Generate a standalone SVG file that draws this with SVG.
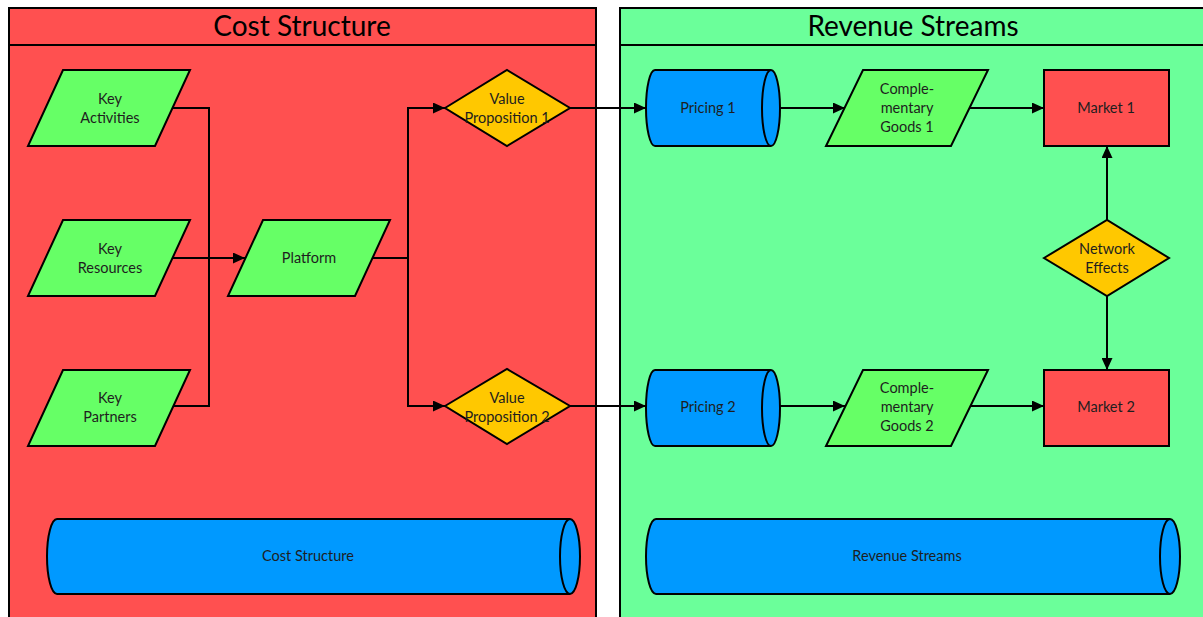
<svg xmlns="http://www.w3.org/2000/svg" width="1203" height="617" viewBox="0 0 1203 617">
<style>
.pool{stroke:#000;stroke-width:2}
.shape{stroke:#000;stroke-width:2}
.para{fill:#66FF66}
.dia{fill:#FFC800}
.cyl{fill:#0099FF}
.mkt{fill:#FF5050}
.t{font-family:Lato,"Open Sans",sans-serif;font-size:14.5px;fill:#1e1e1e;text-anchor:middle}
.title{font-family:Lato,"Open Sans",sans-serif;font-size:28px;fill:#000;text-anchor:middle}
.c{fill:none;stroke:#000;stroke-width:2}
</style>
<defs>
<marker id="ah" markerUnits="userSpaceOnUse" markerWidth="13" markerHeight="11" refX="12" refY="5.5" orient="auto">
<path d="M0,0 L12,5.5 L0,11 Z" fill="#000"/>
</marker>
</defs>
<rect width="1203" height="617" fill="#fff"/>
<g id="pool-cost">
<rect class="pool" x="9" y="8" width="587" height="620" fill="#FF5050"/>
<line class="pool" x1="9" y1="45" x2="596" y2="45"/>
<text class="title" x="302" y="36">Cost Structure</text>
</g>
<g id="pool-revenue">
<rect class="pool" x="620" y="8" width="600" height="620" fill="#6BFF9A"/>
<line class="pool" x1="620" y1="45" x2="1220" y2="45"/>
<text class="title" x="913" y="36">Revenue Streams</text>
</g>
<g id="connectors">
<path class="c" d="M172,108 H209 V258"/>
<path class="c" d="M172,406 H209 V258"/>
<path class="c" d="M172,258 H245" marker-end="url(#ah)"/>
<path class="c" d="M372,258 H408 V108 H445" marker-end="url(#ah)"/>
<path class="c" d="M408,258 V406 H445" marker-end="url(#ah)"/>
<path class="c" d="M570,108 H646" marker-end="url(#ah)"/>
<path class="c" d="M570,406 H646" marker-end="url(#ah)"/>
<path class="c" d="M780,108 H845" marker-end="url(#ah)"/>
<path class="c" d="M780,406 H845" marker-end="url(#ah)"/>
<path class="c" d="M969,108 H1044" marker-end="url(#ah)"/>
<path class="c" d="M969,406 H1044" marker-end="url(#ah)"/>
<path class="c" d="M1107,220 V146" marker-end="url(#ah)"/>
<path class="c" d="M1107,296 V370" marker-end="url(#ah)"/>
</g>
<g id="key-activities">
<path class="shape para" d="M63,70 L190,70 L155,146 L28,146 Z"/>
<text class="t" x="110" y="103.5">Key</text>
<text class="t" x="110" y="122.5">Activities</text>
</g>
<g id="key-resources">
<path class="shape para" d="M63,220 L190,220 L155,296 L28,296 Z"/>
<text class="t" x="110" y="253.5">Key</text>
<text class="t" x="110" y="272.5">Resources</text>
</g>
<g id="key-partners">
<path class="shape para" d="M63,370 L190,370 L155,446 L28,446 Z"/>
<text class="t" x="110" y="402.5">Key</text>
<text class="t" x="110" y="421.5">Partners</text>
</g>
<g id="platform">
<path class="shape para" d="M263,220 L390,220 L355,296 L228,296 Z"/>
<text class="t" x="309" y="263">Platform</text>
</g>
<g id="value-proposition-1">
<path class="shape dia" d="M445,108 L507,70 L570,108 L507,146 Z"/>
<text class="t" x="507" y="103.5">Value</text>
<text class="t" x="507" y="122.5">Proposition 1</text>
</g>
<g id="value-proposition-2">
<path class="shape dia" d="M445,406 L507,369 L570,406 L507,444 Z"/>
<text class="t" x="507" y="402.5">Value</text>
<text class="t" x="507" y="421.5">Proposition 2</text>
</g>
<g id="pricing-1">
<path class="shape cyl" d="M655,70 L771,70 A9 38 0 0 1 771,146 L655,146 A9 38 0 0 1 655,70 Z"/>
<path class="c" d="M771,70 A9 38 0 0 0 771,146"/>
<text class="t" x="708" y="113">Pricing 1</text>
</g>
<g id="pricing-2">
<path class="shape cyl" d="M655,370 L771,370 A9 38 0 0 1 771,446 L655,446 A9 38 0 0 1 655,370 Z"/>
<path class="c" d="M771,370 A9 38 0 0 0 771,446"/>
<text class="t" x="708" y="412">Pricing 2</text>
</g>
<g id="complementary-goods-1">
<path class="shape para" d="M863,70 L988,70 L951,146 L826,146 Z"/>
<text class="t" x="907" y="94">Comple-</text>
<text class="t" x="907" y="113">mentary</text>
<text class="t" x="907" y="132">Goods 1</text>
</g>
<g id="complementary-goods-2">
<path class="shape para" d="M863,370 L988,370 L951,446 L826,446 Z"/>
<text class="t" x="907" y="393">Comple-</text>
<text class="t" x="907" y="412">mentary</text>
<text class="t" x="907" y="431">Goods 2</text>
</g>
<g id="market-1">
<rect class="shape mkt" x="1044" y="70" width="125" height="76"/>
<text class="t" x="1106" y="113">Market 1</text>
</g>
<g id="market-2">
<rect class="shape mkt" x="1044" y="370" width="125" height="76"/>
<text class="t" x="1106" y="412">Market 2</text>
</g>
<g id="network-effects">
<path class="shape dia" d="M1044,258 L1107,220 L1169,258 L1107,296 Z"/>
<text class="t" x="1107" y="253.5">Network</text>
<text class="t" x="1107" y="272.5">Effects</text>
</g>
<g id="cost-structure">
<path class="shape cyl" d="M57,519 L570,519 A10 37.5 0 0 1 570,594 L57,594 A10 37.5 0 0 1 57,519 Z"/>
<path class="c" d="M570,519 A10 37.5 0 0 0 570,594"/>
<text class="t" x="308" y="561">Cost Structure</text>
</g>
<g id="revenue-streams">
<path class="shape cyl" d="M656,519 L1170,519 A10 37.5 0 0 1 1170,594 L656,594 A10 37.5 0 0 1 656,519 Z"/>
<path class="c" d="M1170,519 A10 37.5 0 0 0 1170,594"/>
<text class="t" x="907" y="561">Revenue Streams</text>
</g>
</svg>
